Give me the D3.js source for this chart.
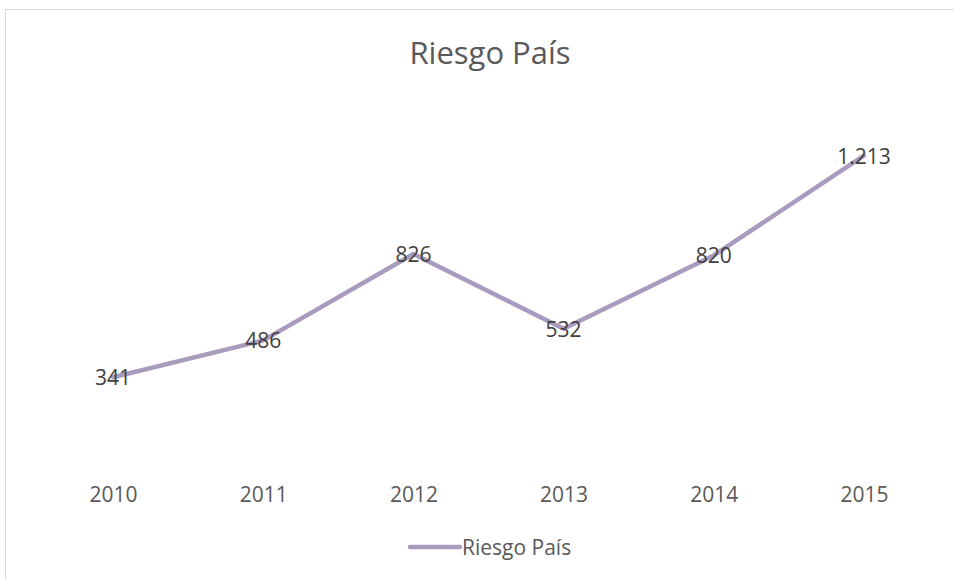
<!DOCTYPE html>
<html>
<head>
<meta charset="utf-8">
<script src="https://cdn.jsdelivr.net/npm/d3@7"></script>
<style>
  body { margin: 0; background: #fff; }
  text { font-family: "Open Sans", "Noto Sans", sans-serif; fill: #404040; }
</style>
</head>
<body>
<svg id="chart" width="954" height="579"></svg>
<script>
var years = ['2010', '2011', '2012', '2013', '2014', '2015'];
var riesgo = [341, 486, 826, 532, 820, 1213];
var seriesName = 'Riesgo País';

var svg = d3.select('#chart');
var lineColor = '#a99bbd';
var labelGray = '#595959';

// chart frame (cropped on right and bottom)
svg.append('rect')
    .attr('x', 5.5).attr('y', 9.5)
    .attr('width', 1000).attr('height', 600)
    .attr('fill', '#fff')
    .attr('stroke', '#d9d9d9');

var x = d3.scalePoint().domain(years).range([38, 939]).padding(0.5);
var y = d3.scaleLinear().domain([0, 1400]).range([464, 108]);

svg.append('text')
    .attr('x', 490).attr('y', 64)
    .attr('text-anchor', 'middle')
    .style('font-size', '31px')
    .style('fill', labelGray)
    .text('Riesgo País');

var data = years.map((d, i) => ({ year: d, value: riesgo[i] }));

var line = d3.line()
    .x((d) => x(d.year))
    .y((d) => y(d.value));

svg.append('path')
    .datum(data)
    .attr('d', line)
    .attr('fill', 'none')
    .attr('stroke', lineColor)
    .attr('stroke-width', 4.5)
    .attr('stroke-linejoin', 'round')
    .attr('stroke-linecap', 'round');

var fmt = (v) => d3.format(',')(v).replace(/,/g, '.');

svg.append('g').selectAll('text')
    .data(data)
  .enter().append('text')
    .attr('x', (d) => x(d.year))
    .attr('y', (d) => y(d.value))
    .attr('text-anchor', 'middle')
    .attr('dominant-baseline', 'central')
    .style('font-size', '21px')
    .text((d) => fmt(d.value));

// category axis, labels only
var axis = svg.append('g')
    .attr('transform', 'translate(0,' + y(0) + ')')
    .call(d3.axisBottom(x).tickSize(0).tickPadding(23));
axis.select('.domain').remove();
axis.selectAll('text')
    .style('font-size', '21px')
    .style('font-family', '"Open Sans", "Noto Sans", sans-serif')
    .style('fill', labelGray);

// legend
var legend = svg.append('g').attr('transform', 'translate(408,547)');
legend.append('line')
    .attr('x1', 2).attr('x2', 52)
    .attr('stroke', lineColor)
    .attr('stroke-width', 4.5)
    .attr('stroke-linecap', 'round');
legend.append('text')
    .attr('x', 54)
    .attr('dominant-baseline', 'central')
    .style('font-size', '21px')
    .style('fill', labelGray)
    .text(seriesName);
</script>
</body>
</html>
